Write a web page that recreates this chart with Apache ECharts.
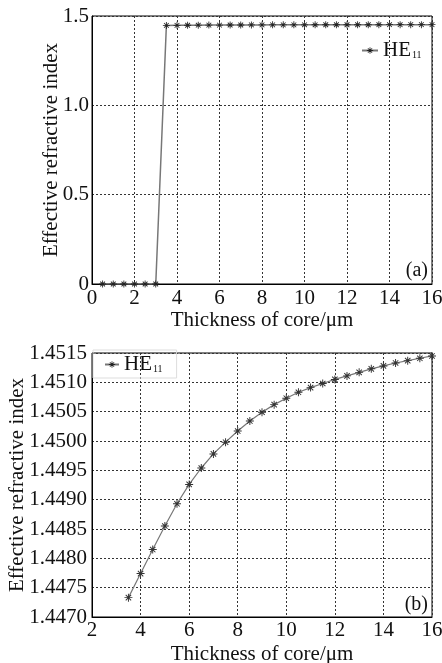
<!DOCTYPE html>
<html>
<head>
<meta charset="utf-8">
<script src="https://cdn.jsdelivr.net/npm/echarts@6/dist/echarts.min.js"></script>
<style>
html, body { margin: 0; padding: 0; background: #fff; }
#main { width: 442px; height: 663px; }
</style>
</head>
<body>
<div id="main"></div>
<script>
// thickness of core (um) and effective refractive index of HE11
var thickA = [0.5, 1, 1.5, 2, 2.5, 3, 3.5, 4, 4.5, 5, 5.5, 6, 6.5, 7, 7.5, 8, 8.5, 9, 9.5, 10,
              10.5, 11, 11.5, 12, 12.5, 13, 13.5, 14, 14.5, 15, 15.5, 16];
var neffCutoff = [0, 0, 0, 0, 0, 0];

var thickB = [3.5, 4, 4.5, 5, 5.5, 6, 6.5, 7, 7.5, 8, 8.5, 9, 9.5, 10,
              10.5, 11, 11.5, 12, 12.5, 13, 13.5, 14, 14.5, 15, 15.5, 16];
var neffB = [1.44733, 1.44774, 1.44815, 1.44855, 1.44893, 1.44926, 1.44954, 1.44978, 1.44998, 1.45017,
             1.45034, 1.45049, 1.45062, 1.45073, 1.45083, 1.45091, 1.45098, 1.45105, 1.45111, 1.45117,
             1.45123, 1.45128, 1.45133, 1.45137, 1.45141, 1.45145];
var neffA = neffCutoff.concat(neffB);

var xTicksA = [0, 16, 2];
var yTicksA = [0, 1.5, 0.5];
var xTicksB = [2, 16, 2];
var yTicksB = [1.4470, 1.4515, 0.0005];

function pairs(xs, ys) {
    var out = [];
    for (var i = 0; i < xs.length; i++) out.push([xs[i], ys[i]]);
    return out;
}

var font = 'Liberation Serif';
var star = 'path://M4.4,0h1.2v10h-1.2z M0,4.4h10v1.2h-10z M1.2,2.05l0.85,-0.85l6.75,6.75l-0.85,0.85z M7.95,1.2l0.85,0.85l-6.75,6.75l-0.85,-0.85z';
var gridLine = { show: true, lineStyle: { color: '#333', type: [2, 2], width: 1 } };
var axisLine = { show: true, lineStyle: { color: '#000', width: 1 } };
var legendRich = {
    a: { fontFamily: font, fontSize: 21, color: '#111' },
    s: { fontFamily: font, fontSize: 10, color: '#111', padding: [10, 0, 0, 1] }
};

var myChart = echarts.init(document.getElementById('main'));

option = {
    backgroundColor: '#fff',
    animation: false,
    grid: [
        { left: 92, top: 16, width: 340, height: 268, show: true, borderColor: '#000', borderWidth: 1, outerBoundsMode: 'none', containLabel: false },
        { left: 92, top: 353, width: 340, height: 264, show: true, borderColor: '#000', borderWidth: 1, outerBoundsMode: 'none', containLabel: false }
    ],
    legend: [
        {
            data: ['HE11'], left: 361, top: 40, itemWidth: 16, itemHeight: 8, itemGap: 2,
            padding: 0,
            formatter: function () { return '{a|HE}{s|11}'; },
            textStyle: { rich: legendRich }
        },
        {
            data: ['HE11'], left: 93, top: 350, itemWidth: 14, itemHeight: 8,
            padding: [4, 14, 3, 11], borderColor: '#ddd', borderWidth: 1,
            formatter: function () { return '{a|HE}{s|11}'; },
            textStyle: { rich: legendRich }
        }
    ],
    xAxis: [
        {
            gridIndex: 0, type: 'value', min: xTicksA[0], max: xTicksA[1], interval: xTicksA[2],
            name: 'Thickness of core/μm', nameLocation: 'middle', nameGap: 26, nameMoveOverlap: false,
            nameTextStyle: { fontFamily: font, fontSize: 21, color: '#111' },
            axisLine: axisLine, axisTick: { show: false }, splitLine: gridLine,
            axisLabel: { fontFamily: font, fontSize: 21, color: '#111', margin: 4 }
        },
        {
            gridIndex: 1, type: 'value', min: xTicksB[0], max: xTicksB[1], interval: xTicksB[2],
            name: 'Thickness of core/μm', nameLocation: 'middle', nameGap: 27, nameMoveOverlap: false,
            nameTextStyle: { fontFamily: font, fontSize: 21, color: '#111' },
            axisLine: axisLine, axisTick: { show: false }, splitLine: gridLine,
            axisLabel: { fontFamily: font, fontSize: 21, color: '#111', margin: 3 }
        }
    ],
    yAxis: [
        {
            gridIndex: 0, type: 'value', min: yTicksA[0], max: yTicksA[1], interval: yTicksA[2],
            name: 'Effective refractive index', nameLocation: 'middle', nameGap: 30, nameMoveOverlap: false,
            nameTextStyle: { fontFamily: font, fontSize: 21, color: '#111' },
            axisLine: axisLine, axisTick: { show: false }, splitLine: gridLine,
            axisLabel: {
                fontFamily: font, fontSize: 21, color: '#111', margin: 3,
                formatter: function (v) { return v === 0 ? '0' : v.toFixed(1); }
            }
        },
        {
            gridIndex: 1, type: 'value', min: yTicksB[0], max: yTicksB[1], interval: yTicksB[2],
            name: 'Effective refractive index', nameLocation: 'middle', nameGap: 64, nameMoveOverlap: false,
            nameTextStyle: { fontFamily: font, fontSize: 21, color: '#111' },
            axisLine: axisLine, axisTick: { show: false }, splitLine: gridLine,
            axisLabel: {
                fontFamily: font, fontSize: 21, color: '#111', margin: 5,
                formatter: function (v) { return v.toFixed(4); }
            }
        }
    ],
    graphic: [
        { type: 'text', right: 14, top: 261, style: { text: '(a)', fontFamily: font, fontSize: 20, fill: '#111' } },
        { type: 'text', right: 14, top: 595, style: { text: '(b)', fontFamily: font, fontSize: 20, fill: '#111' } }
    ],
    series: [
        {
            name: 'HE11', type: 'line', xAxisIndex: 0, yAxisIndex: 0,
            data: pairs(thickA, neffA),
            symbol: star, symbolSize: 7, showAllSymbol: true,
            lineStyle: { color: '#777', width: 1.5 },
            itemStyle: { color: '#222' }
        },
        {
            name: 'HE11', type: 'line', xAxisIndex: 1, yAxisIndex: 1,
            data: pairs(thickB, neffB),
            symbol: star, symbolSize: 8, showAllSymbol: true,
            lineStyle: { color: '#777', width: 1.2 },
            itemStyle: { color: '#333' }
        }
    ]
};

myChart.setOption(option);
</script>
</body>
</html>
